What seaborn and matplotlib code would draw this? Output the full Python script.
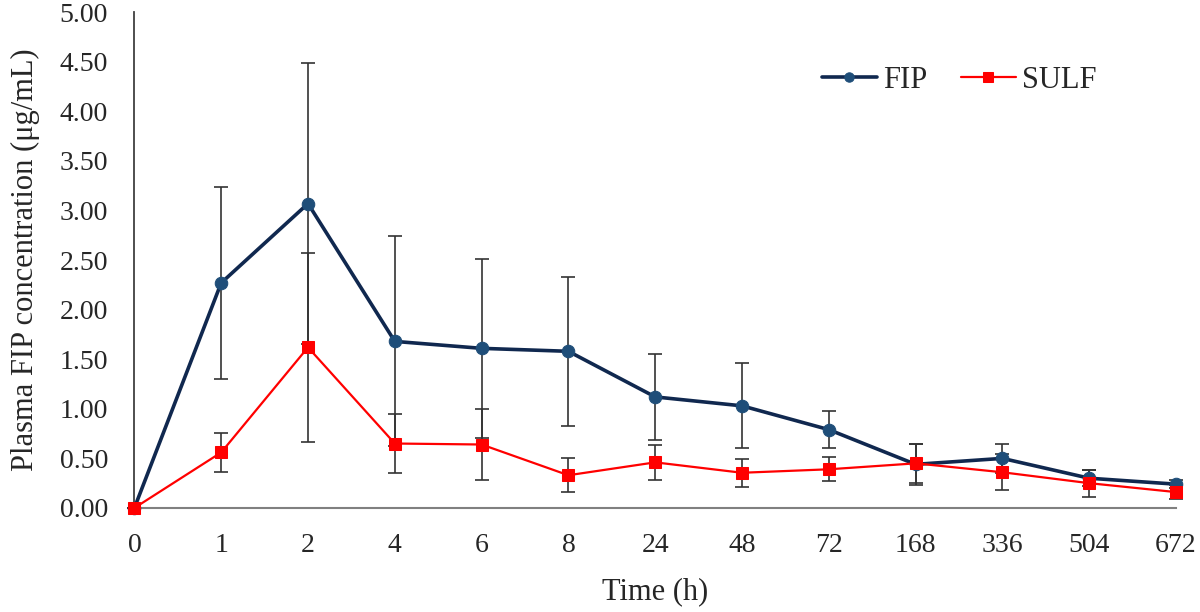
import pandas as pd
import seaborn as sns
import matplotlib.pyplot as plt
import numpy as np

# Sampling times (h) and plasma FIP concentrations (mean and SD)
times = ['0', '1', '2', '4', '6', '8', '24', '48', '72', '168', '336', '504', '672']
fip_mean = [0, 2.27, 3.07, 1.68, 1.61, 1.58, 1.12, 1.03, 0.79, 0.44, 0.50, 0.30, 0.24]
fip_sd = [0, 0.97, 1.42, 1.06, 0.90, 0.75, 0.43, 0.43, 0.19, 0.21, 0.145, 0.08, 0.04]
sulf_mean = [0, 0.56, 1.62, 0.65, 0.64, 0.33, 0.46, 0.355, 0.39, 0.45, 0.36, 0.25, 0.16]
sulf_sd = [0, 0.195, 0.95, 0.30, 0.36, 0.17, 0.18, 0.14, 0.12, 0.20, 0.18, 0.135, 0.07]

sns.set_style('white')
plt.rcParams['font.family'] = ['Liberation Serif', 'DejaVu Serif']

df = pd.DataFrame({
    'time': times * 2,
    'conc': fip_mean + sulf_mean,
    'sd': fip_sd + sulf_sd,
    'group': ['FIP'] * len(times) + ['SULF'] * len(times),
})

fig, ax = plt.subplots(figsize=(12, 6.12), dpi=100)
fig.subplots_adjust(left=0.112, right=0.98, top=0.98, bottom=0.17)

colors = {'FIP': '#10284f', 'SULF': '#ff0000'}

# error bars first so the markers sit on top
for g in ['FIP', 'SULF']:
    d = df[df.group == g]
    ax.errorbar(d.time, d.conc, yerr=d.sd, fmt='none', ecolor='#333333',
                elinewidth=1.2, capsize=5, capthick=1.2, zorder=1, clip_on=False)

sns.lineplot(data=df[df.group == 'FIP'], x='time', y='conc', ax=ax, color=colors['FIP'],
             marker='o', markersize=9, markerfacecolor='#1f4e79', markeredgecolor='#1f4e79',
             linewidth=2.6, label='FIP', zorder=3, clip_on=False, sort=False)
sns.lineplot(data=df[df.group == 'SULF'], x='time', y='conc', ax=ax, color=colors['SULF'],
             marker='s', markersize=9, markeredgecolor='#ff0000',
             linewidth=1.6, label='SULF', zorder=4, clip_on=False, sort=False)

ax.set_xlim(0, len(times) - 1)
ax.set_ylim(0, 5)
ax.set_yticks(np.arange(0, 5.01, 0.5))
ax.set_yticklabels([f'{v:.2f}' for v in np.arange(0, 5.01, 0.5)])
ax.tick_params(axis='both', labelsize=20, length=0)
ax.tick_params(axis='y', pad=19)
ax.tick_params(axis='x', pad=18)

ax.set_xlabel('Time (h)', fontsize=22, labelpad=14)
ax.set_ylabel('Plasma FIP concentration (μg/mL)', fontsize=22, labelpad=14)

sns.despine(ax=ax)
ax.spines['left'].set_color('#404040')
ax.spines['left'].set_linewidth(1.3)
ax.spines['bottom'].set_color('#808080')
ax.spines['bottom'].set_linewidth(1.5)

ax.legend(loc='center left', bbox_to_anchor=(0.66, 0.862), ncol=2, frameon=False,
          fontsize=22, handlelength=1.8, handletextpad=0.2, columnspacing=1.1,
          borderpad=0, borderaxespad=0, markerscale=0.75)

fig.savefig('out.png')
